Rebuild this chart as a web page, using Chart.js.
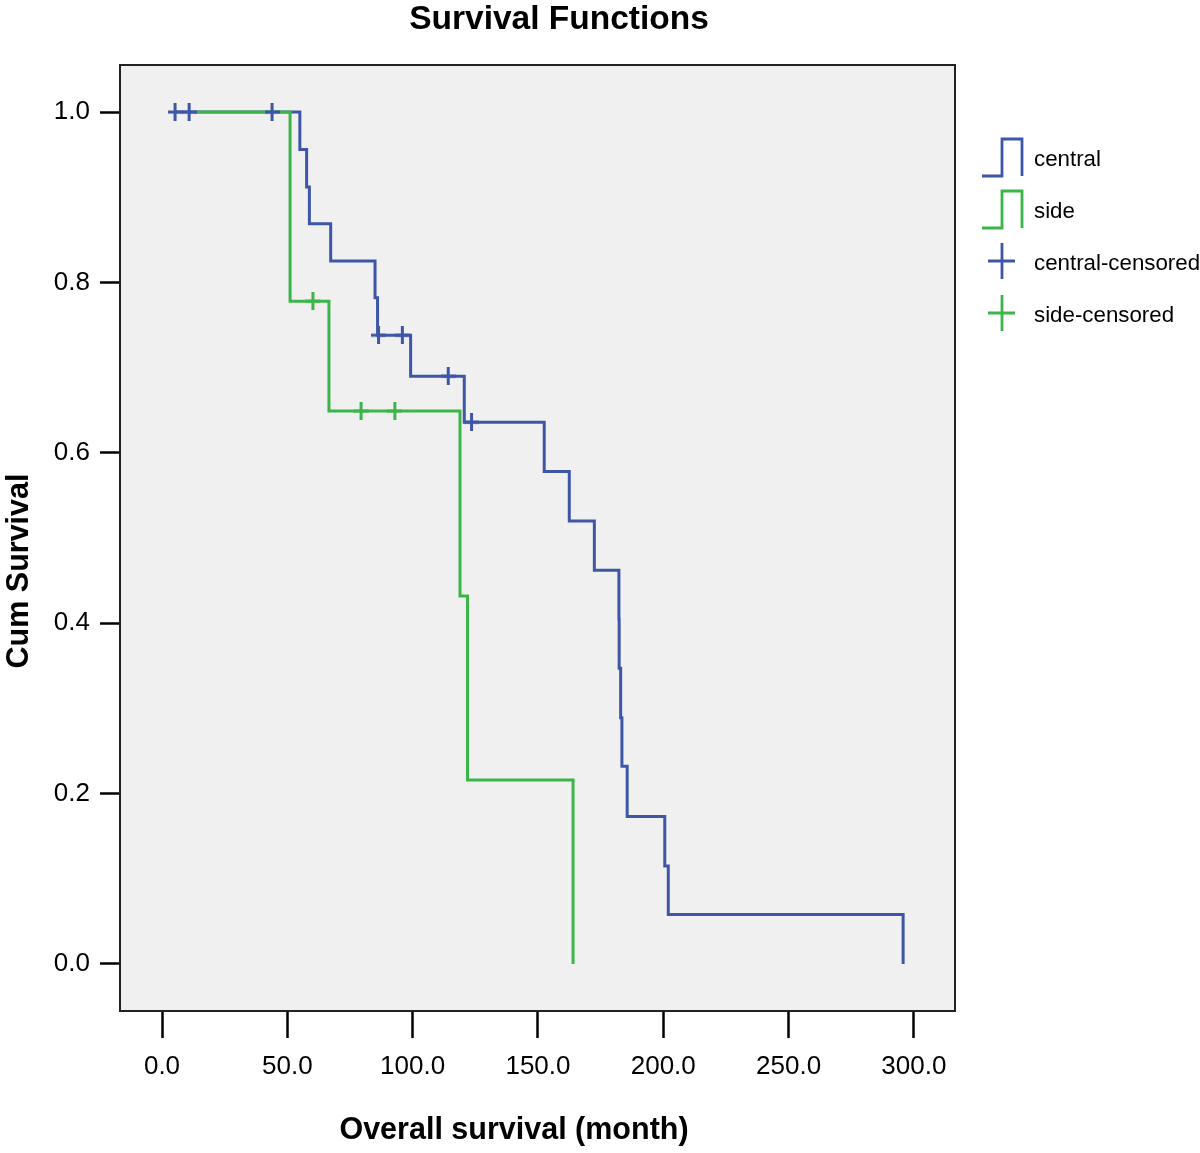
<!DOCTYPE html>
<html>
<head>
<meta charset="utf-8">
<title>Survival Functions</title>
<script src="https://cdn.jsdelivr.net/npm/chart.js@4.4.1/dist/chart.umd.min.js"></script>
<style>
  html, body { margin: 0; padding: 0; background: #fff; }
  #wrap { width: 1200px; height: 1153px; }
</style>
</head>
<body>
<div id="wrap"><canvas id="survChart" width="1200" height="1153"></canvas></div>
<script>
const groupNames = ["central", "side"];

// Kaplan-Meier steps: time of each step and survival after it
const centralTimes = [5.2, 55, 57.7, 58.8, 67.3, 85, 86, 99.2, 120.6, 152.5, 162.5, 172.5, 182.3, 182.4, 183, 183.5, 185.6, 200.6, 202, 295.7];
const centralSurv = [1.0, 0.956, 0.912, 0.869, 0.825, 0.782, 0.738, 0.690, 0.636, 0.578, 0.520, 0.462, 0.405, 0.347, 0.289, 0.232, 0.173, 0.115, 0.058, 0];
const sideTimes = [13, 51.1, 66.6, 118.9, 121.9, 164];
const sideSurv = [1.0, 0.778, 0.649, 0.432, 0.216, 0];

// censored cases
const centralCensorTimes = [5.2, 10.8, 43.9, 86.4, 95.9, 114.2, 123.5];
const centralCensorSurv = [1.0, 1.0, 1.0, 0.738, 0.738, 0.690, 0.636];
const sideCensorTimes = [60.2, 79.4, 92.9];
const sideCensorSurv = [0.778, 0.649, 0.649];

const xTicks = [0, 50, 100, 150, 200, 250, 300];
const yTicks = [0, 0.2, 0.4, 0.6, 0.8, 1.0];

const BLUE = "#3e56a8";
const GREEN = "#3bb54a";
const FONT = "'Liberation Sans', Arial, Helvetica, sans-serif";

function toPoints(xs, ys) {
  return xs.map((x, i) => ({ x: x, y: ys[i] }));
}

// small plus sign used as the censor marker
function plusImage(color, w, h, lw) {
  const c = document.createElement("canvas");
  c.width = w;
  c.height = h;
  const g = c.getContext("2d");
  g.strokeStyle = color;
  g.lineWidth = lw;
  g.beginPath();
  g.moveTo(0, h / 2);
  g.lineTo(w, h / 2);
  g.moveTo(w / 2, 0);
  g.lineTo(w / 2, h);
  g.stroke();
  return c;
}

const plotFrame = {
  id: "plotFrame",
  beforeDraw(chart) {
    const a = chart.chartArea;
    const ctx = chart.ctx;
    ctx.save();
    ctx.fillStyle = "#f0f0f0";
    ctx.fillRect(a.left, a.top, a.right - a.left, a.bottom - a.top);
    ctx.restore();
  },
  afterDraw(chart) {
    const a = chart.chartArea;
    const ctx = chart.ctx;
    ctx.save();
    ctx.strokeStyle = "#222";
    ctx.lineWidth = 2;
    ctx.strokeRect(a.left, a.top, a.right - a.left, a.bottom - a.top);
    ctx.restore();
  }
};

// titles and the SPSS style legend
const spssText = {
  id: "spssText",
  afterDraw(chart) {
    const ctx = chart.ctx;
    ctx.save();
    ctx.fillStyle = "#000";
    ctx.textAlign = "center";
    ctx.textBaseline = "alphabetic";
    ctx.font = "bold 33.5px " + FONT;
    ctx.fillText("Survival Functions", 559, 29);
    ctx.font = "bold 30.5px " + FONT;
    ctx.fillText("Overall survival (month)", 514, 1139);
    ctx.translate(28, 571);
    ctx.rotate(-Math.PI / 2);
    ctx.fillText("Cum Survival", 0, 0);
    ctx.restore();

    ctx.save();
    ctx.lineWidth = 2.8;
    const colors = [BLUE, GREEN];
    groupNames.forEach((name, i) => {
      const top = 139 + i * 52;
      const bot = top + 37;
      ctx.strokeStyle = colors[i];
      ctx.beginPath();
      ctx.moveTo(982, bot);
      ctx.lineTo(1002, bot);
      ctx.lineTo(1002, top);
      ctx.lineTo(1022, top);
      ctx.lineTo(1022, bot);
      ctx.stroke();

      const cy = 261 + i * 52;
      ctx.beginPath();
      ctx.moveTo(988, cy);
      ctx.lineTo(1015, cy);
      ctx.moveTo(1002, cy - 18);
      ctx.lineTo(1002, cy + 18);
      ctx.stroke();
    });
    ctx.fillStyle = "#000";
    ctx.font = "22.3px " + FONT;
    ctx.textAlign = "left";
    ctx.textBaseline = "middle";
    groupNames.forEach((name, i) => {
      ctx.fillText(name, 1034, 160 + i * 52);
      ctx.fillText(name + "-censored", 1034, 264 + i * 52);
    });
    ctx.restore();
  }
};

const ctx = document.getElementById("survChart").getContext("2d");
const chart = new Chart(ctx, {
  type: "scatter",
  data: {
    datasets: [
      {
        label: groupNames[0],
        data: toPoints(centralTimes, centralSurv),
        showLine: true,
        stepped: true,
        borderColor: BLUE,
        borderWidth: 3,
        pointRadius: 0,
        fill: false,
        order: 4
      },
      {
        label: groupNames[1],
        data: toPoints(sideTimes, sideSurv),
        showLine: true,
        stepped: true,
        borderColor: GREEN,
        borderWidth: 3,
        pointRadius: 0,
        fill: false,
        order: 3
      },
      {
        label: groupNames[0] + "-censored",
        data: toPoints(centralCensorTimes, centralCensorSurv),
        showLine: false,
        pointStyle: plusImage(BLUE, 15, 18, 3),
        pointRadius: 5,
        order: 1
      },
      {
        label: groupNames[1] + "-censored",
        data: toPoints(sideCensorTimes, sideCensorSurv),
        showLine: false,
        pointStyle: plusImage(GREEN, 15, 18, 3),
        pointRadius: 5,
        order: 2
      }
    ]
  },
  options: {
    responsive: false,
    animation: false,
    events: [],
    devicePixelRatio: 1,
    layout: { padding: { left: 0, top: 65, right: 245, bottom: 0 } },
    plugins: {
      legend: { display: false },
      title: { display: false },
      tooltip: { enabled: false }
    },
    scales: {
      x: {
        type: "linear",
        min: -16.76,
        max: 316.4,
        afterBuildTicks: (scale) => { scale.ticks = xTicks.map(v => ({ value: v })); },
        afterFit: (scale) => { scale.height = 142; },
        border: { display: false },
        grid: {
          drawOnChartArea: false,
          drawTicks: true,
          tickLength: 27,
          tickColor: "#000",
          tickWidth: 2.5
        },
        ticks: {
          color: "#000",
          padding: 13,
          maxRotation: 0,
          font: { family: FONT, size: 26 },
          callback: (v) => Number(v).toFixed(1)
        }
      },
      y: {
        type: "linear",
        min: -0.0552,
        max: 1.0552,
        afterBuildTicks: (scale) => { scale.ticks = yTicks.map(v => ({ value: v })); },
        afterFit: (scale) => { scale.width = 120; },
        border: { display: false },
        grid: {
          drawOnChartArea: false,
          drawTicks: true,
          tickLength: 20,
          tickColor: "#000",
          tickWidth: 2.5
        },
        ticks: {
          color: "#000",
          padding: 10,
          font: { family: FONT, size: 26 },
          callback: (v) => Number(v).toFixed(1)
        }
      }
    }
  },
  plugins: [plotFrame, spssText]
});
</script>
</body>
</html>
